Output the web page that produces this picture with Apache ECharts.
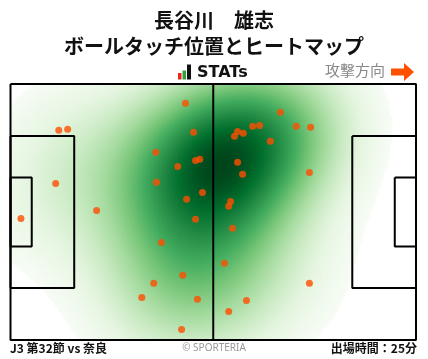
<!DOCTYPE html>
<html><head><meta charset="utf-8">
<script src="https://cdn.jsdelivr.net/npm/echarts@6/dist/echarts.min.js"></script>
<style>html,body{margin:0;padding:0;background:#fff}#c{width:428px;height:359px}</style>
</head><body><div id="c"></div>
<script>
// Ball touch positions (metres; x along 105 m pitch, y from top touchline, 68 m)
const touchX = [45.3,47.4,12.5,14.8,37.6,43.3,47.9,49.0,11.7,37.8,49.7,45.6,22.3,2.7,47.9,39.1,44.6,37.1,34.0,48.4,44.3,
                69.9,58.8,58.0,60.3,62.7,64.5,74.0,77.7,67.3,58.8,60.1,77.4,57.0,56.5,57.5,55.4,77.4,61.1,56.5];
const touchY = [5.1,12.8,12.3,12.0,18.1,21.9,20.3,20.0,26.4,26.1,28.8,30.6,33.6,35.7,35.9,42.1,50.8,52.9,56.7,57.2,65.2,
                7.5,12.6,13.9,13.1,11.2,11.0,11.2,11.5,15.2,20.8,24.0,23.5,31.2,32.5,38.3,47.6,52.9,57.5,60.4];
const titleLines = ['長谷川　雄志', 'ボールタッチ位置とヒートマップ'];
const footerLeft = 'J3 第32節 vs 奈良';
const footerRight = '出場時間：25分';
const credit = '© SPORTERIA';
const directionLabel = '攻撃方向';
const PITCH_L = 105, PITCH_W = 68;
const greens = ['#f7fcf5','#e5f5e0','#c7e9c0','#a1d99b','#74c476','#41ab5d','#238b45','#006d2c','#00441b'];

// Gaussian KDE of the touches
const n = touchX.length;
const mx = touchX.reduce((a,b)=>a+b,0)/n, my = touchY.reduce((a,b)=>a+b,0)/n;
let sxx=0, syy=0, sxy=0;
for (let i=0;i<n;i++){const dx=touchX[i]-mx, dy=touchY[i]-my; sxx+=dx*dx; syy+=dy*dy; sxy+=dx*dy;}
sxx/=(n-1); syy/=(n-1); sxy/=(n-1);
const bwAdjust = 1.55;
const f2 = Math.pow(n, -1/3)*bwAdjust*bwAdjust;
const hxx=sxx*f2, hyy=syy*f2, hxy=sxy*f2;
const det = hxx*hyy-hxy*hxy;
const ixx=hyy/det, iyy=hxx/det, ixy=-hxy/det;
const norm = 1/(2*Math.PI*Math.sqrt(det)*n);
function dens(x,y){let s=0;for(let i=0;i<n;i++){const dx=x-touchX[i], dy=y-touchY[i];s+=Math.exp(-0.5*(ixx*dx*dx+2*ixy*dx*dy+iyy*dy*dy));}return s*norm;}
// lowest level: iso-proportion over an extended evaluation grid (cut = 3 bandwidths)
const bwx=Math.sqrt(hxx)*3, bwy=Math.sqrt(hyy)*3;
const ext=[];
const ex0=Math.min(...touchX)-bwx, ex1=Math.max(...touchX)+bwx, ey0=Math.min(...touchY)-bwy, ey1=Math.max(...touchY)+bwy;
for(let i=0;i<150;i++)for(let j=0;j<150;j++)ext.push(dens(ex0+(ex1-ex0)*i/149,ey0+(ey1-ey0)*j/149));
ext.sort((a,b)=>a-b);
const tot=ext.reduce((a,b)=>a+b,0);
let cum=0, thresh=0;
for(let k=0;k<ext.length;k++){cum+=ext[k]; if(cum>=0.08*tot){thresh=ext[k];break;}}
const NX=203, NY=128;
const heat=[]; let dmax=0;
for(let i=0;i<NX;i++)for(let j=0;j<NY;j++){
  const v=dens((i+0.5)*PITCH_L/NX,(j+0.5)*PITCH_W/NY);
  if(v>dmax)dmax=v;
  if(v>=thresh)heat.push([i,j,v]);
}

function rectLine(x0,y0,x1,y1){return [[x0,y0],[x1,y0],[x1,y1],[x0,y1],[x0,y0]];}
const pa=(PITCH_W-40.32)/2, ga=(PITCH_W-18.32)/2;
const pitchShapes=[
  rectLine(0,0,PITCH_L,PITCH_W),
  [[PITCH_L/2,0],[PITCH_L/2,PITCH_W]],
  rectLine(0,pa,16.5,PITCH_W-pa),
  rectLine(0,ga,5.5,PITCH_W-ga),
  rectLine(PITCH_L-16.5,pa,PITCH_L,PITCH_W-pa),
  rectLine(PITCH_L-5.5,ga,PITCH_L,PITCH_W-ga)
];
const lineSeries=pitchShapes.map(d=>({type:'line',xAxisIndex:0,yAxisIndex:0,data:d,symbol:'none',silent:true,
  lineStyle:{color:'#000',width:2},z:3,animation:false}));

const font='"Noto Sans CJK JP","Noto Sans",sans-serif';
const chart=echarts.init(document.getElementById('c'),null,{renderer:'canvas'});
const grid={left:10.5,top:84,width:405.5,height:256};
chart.setOption({
  animation:false,
  grid:grid,
  xAxis:[{type:'value',min:0,max:PITCH_L,show:false},
         {type:'category',data:Array.from({length:NX},(_,i)=>i),show:false,gridIndex:0}],
  yAxis:[{type:'value',min:0,max:PITCH_W,inverse:true,show:false},
         {type:'category',data:Array.from({length:NY},(_,i)=>i),inverse:true,show:false,gridIndex:0}],
  visualMap:{show:false,type:'continuous',min:thresh,max:dmax,seriesIndex:0,dimension:2,inRange:{color:greens}},
  series:[
    {type:'heatmap',xAxisIndex:1,yAxisIndex:1,data:heat,silent:true,z:1,progressive:0},
    ...lineSeries,
    {type:'scatter',xAxisIndex:0,yAxisIndex:0,data:touchX.map((x,i)=>[x,touchY[i]]),symbolSize:7,
      itemStyle:{color:'#ff4d00'},z:5,silent:true}
  ],
  graphic:[
    {type:'text',left:'center',top:10,style:{text:titleLines[0],font:'bold 20px '+font,fill:'#111'}},
    {type:'text',left:'center',top:36,style:{text:titleLines[1],font:'bold 20px '+font,fill:'#111'}},
    {type:'rect',shape:{x:178,y:73,width:3.5,height:6.5},style:{fill:'#e8261c'}},
    {type:'rect',shape:{x:182.5,y:70.5,width:3.5,height:9},style:{fill:'#2aa33a'}},
    {type:'rect',shape:{x:187,y:64.5,width:4,height:15},style:{fill:'#111'}},
    {type:'text',x:197,y:65,style:{text:'STATs',font:'bold 16px "DejaVu Sans",sans-serif',fill:'#111'}},
    {type:'text',x:325,y:63,style:{text:directionLabel,font:'15px '+font,fill:'#888'}},
    {type:'polygon',shape:{points:[[391,68.5],[404,68.5],[404,63],[414,72],[404,81],[404,75.5],[391,75.5]]},style:{fill:'#ff5000'}},
    {type:'text',x:10,y:342,style:{text:footerLeft,font:'bold 12px '+font,fill:'#111'}},
    {type:'text',left:'center',y:343,style:{text:credit,font:'10px "Noto Sans",sans-serif',fill:'#999'}},
    {type:'text',right:11,y:342,style:{text:footerRight,font:'bold 12px '+font,fill:'#111'}}
  ]
});
</script></body></html>
